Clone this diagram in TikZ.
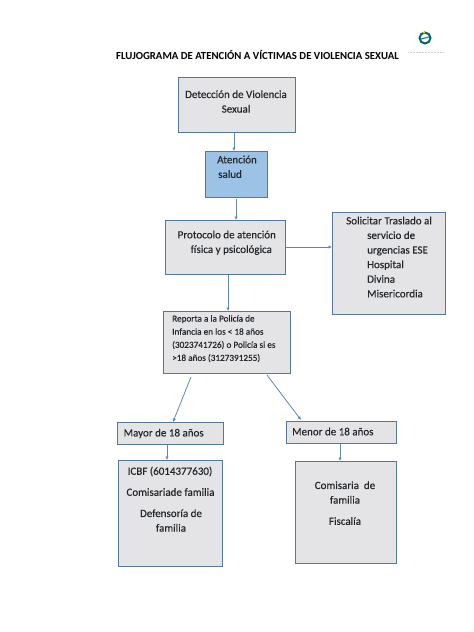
\documentclass[tikz,border=0pt]{standalone}
\usepackage{fontspec}
\setmainfont{Carlito}
\usetikzlibrary{arrows.meta}
\definecolor{boxfill}{HTML}{E4E4E6}
\definecolor{boxline}{HTML}{55789A}
\definecolor{bluefill}{HTML}{9CC2E6}
\definecolor{arrowc}{HTML}{5E86B4}
\definecolor{txt}{HTML}{23272C}
\tikzset{
  x=1pt,y=-1pt,
  flowbox/.style={draw=boxline,line width=1.3pt,fill=boxfill,inner sep=0pt},
  bluebox/.style={flowbox,fill=bluefill},
  lbl/.style={font=\fontsize{11}{14.6}\selectfont\addfontfeature{FakeBold=0.35},text=txt,inner sep=0pt,align=center},
  lbll/.style={lbl,align=left},
  small/.style={lbl,align=left,font=\fontsize{9.2}{13.1}\selectfont\addfontfeature{FakeBold=0.35}},
  conn/.style={draw=arrowc,line width=0.8pt,-{Latex[length=3.5pt,width=3.5pt]}}
}
\begin{document}
\begin{tikzpicture}
\useasboundingbox (0,0) rectangle (474,632);
\fill[white] (0,0) rectangle (474,632);
% boxes
\node[flowbox,minimum width=117pt,minimum height=55pt,anchor=north west] (det) at (178,77) {};
\node[bluebox,minimum width=62pt,minimum height=46pt,anchor=north west] (ate) at (205,151) {};
\node[flowbox,minimum width=120pt,minimum height=54pt,anchor=north west] (pro) at (165,220) {};
\node[flowbox,minimum width=113pt,minimum height=102pt,anchor=north west] (sol) at (332,212) {};
\node[flowbox,minimum width=127pt,minimum height=62pt,anchor=north west] (rep) at (163,311) {};
\node[flowbox,minimum width=106pt,minimum height=22pt,anchor=north west] (may) at (117,422) {};
\node[flowbox,minimum width=110pt,minimum height=22pt,anchor=north west] (men) at (286,421) {};
\node[flowbox,minimum width=104pt,minimum height=106pt,anchor=north west] (icb) at (118,460) {};
\node[flowbox,minimum width=101pt,minimum height=102pt,anchor=north west] (com) at (295,461) {};
% free ends
\coordinate (a2s) at (236,199);
\coordinate (a5s) at (191,377);
\coordinate (a6s) at (267,375);
\coordinate (a5e) at (173,422);
\coordinate (a6e) at (301,420);
% connectors
\draw[conn] (det.south -| 234,0) -- (ate.north -| 234,0);
\draw[conn] (a2s) -- (pro.north -| a2s);
\draw[conn] (pro.east |- 0,247) -- (sol.west |- 0,247);
\draw[conn] (pro.south -| 228,0) -- (rep.north -| 228,0);
\draw[conn] (a5s) -- (a5e);
\draw[conn] (a6s) -- (a6e);
\draw[conn] (may.south -| 167,0) -- (icb.north -| 167,0);
\draw[conn] (men.south -| 340,0) -- (com.north -| 340,0);
% title
\node[lbl,font=\fontsize{10.75}{13}\selectfont\bfseries,text=black,anchor=west] (title) at (116,55) {FLUJOGRAMA DE ATENCIÓN A VÍCTIMAS DE VIOLENCIA SEXUAL};
% logo
\draw[teal!80!black,line width=2pt] (425,38) circle (5.5pt);
\fill[yellow!70!orange] (424,32.5) circle (1.1pt);
\draw[cyan!60!blue,line width=1.1pt] (421,39) -- (429,37);
\draw[gray!40,line width=1pt,dash pattern=on 1pt off 0.5pt] (408,52.5) -- (443,52.5);
% labels
\node[lbl] (tdet) at (236,101.5) {Detección de Violencia\\Sexual};
\node[lbll,anchor=north west] (tate) at (217,155.5) {Atención\\\hspace*{1pt}salud};
\node[lbll,anchor=north west] (tpro) at (177.5,230.5) {Protocolo de atención\\\hspace*{13pt}física y psicológica};
\node[lbll,anchor=north west] (tsol) at (346,216.5) {Solicitar Traslado al\\\hspace*{21pt}servicio de\\\hspace*{21pt}urgencias ESE\\\hspace*{21pt}Hospital\\\hspace*{21pt}Divina\\\hspace*{21pt}Misericordia};
\node[small,anchor=north west] (trep) at (172,315) {Reporta a la Policía de\\Infancia en los < 18 años\\(3023741726) o Policía si es\\>18 años (3127391255)};
\node[lbl,anchor=west] (tmay) at (123.5,433.5) {Mayor de 18 años};
\node[lbl,anchor=west] (tmen) at (292,431.5) {Menor de 18 años};
\node[lbl] (ticb) at (170,471.5) {ICBF (6014377630)};
\node[lbl] (tcm1) at (170.5,492) {Comisariade familia};
\node[lbl] (tdef) at (171,520.5) {Defensoría de\\familia};
\node[lbl] (tcm2) at (345,492.5) {Comisaria~ de\\familia};
\node[lbl] (tfis) at (345,521) {Fiscalía};
\end{tikzpicture}
\end{document}
